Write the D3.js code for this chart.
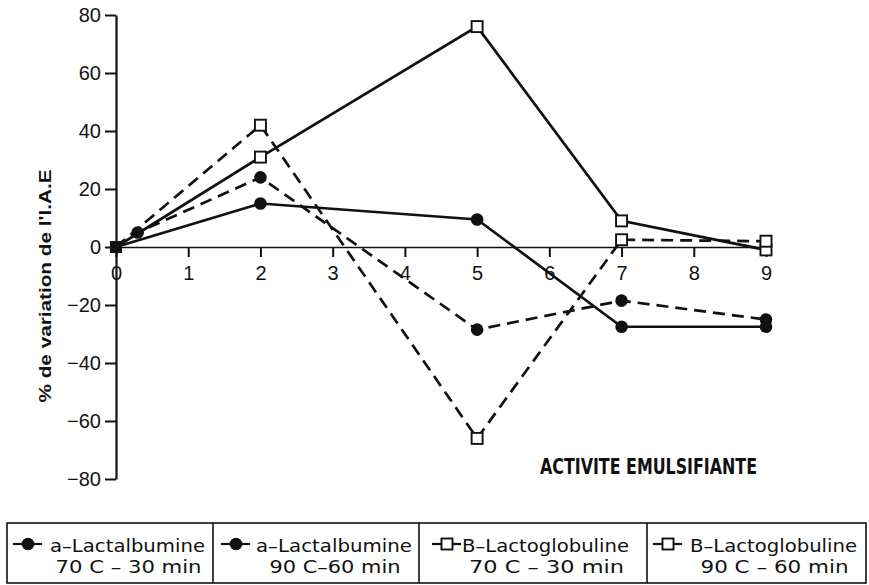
<!DOCTYPE html>
<html lang="fr">
<head>
<meta charset="utf-8">
<title>% de variation de l'I.A.E</title>
<script src="https://d3js.org/d3.v7.min.js"></script>
<style>
  body { margin: 0; background: #fff; }
  svg text { fill: #111; }
</style>
</head>
<body>
<svg id="chart" width="869" height="585"></svg>
<script>
// ---- data ----
var xTicks = [0, 1, 2, 3, 4, 5, 6, 7, 8, 9];
var yTicks = [-80, -60, -40, -20, 0, 20, 40, 60, 80];

var xA70 = [0, 2, 5, 7, 9];
var yA70 = [0, 15, 9.5, -27.5, -27.5];

var xA90 = [0, 0.3, 2, 5, 7, 9];
var yA90 = [0, 5, 24, -28.5, -18.5, -25];

var xB70 = [0, 2, 5, 7, 9];
var yB70 = [0, 31, 76, 9, -1];

var xB90 = [0, 2, 5, 7, 9];
var yB90 = [0, 42, -66, 2.5, 2];

var seriesNames = ["a\u2013Lactalbumine", "a\u2013Lactalbumine", "B\u2013Lactoglobuline", "B\u2013Lactoglobuline"];
var seriesConds = ["70 C \u2013 30 min", "90 C\u201360 min", "70 C \u2013 30 min", "90 C \u2013 60 min"];

// ---- build series ----
function pts(xs, ys) { return xs.map(function(d, i) { return {x: d, y: ys[i]}; }); }
var series = [
  {pts: pts(xA70, yA70), dashed: false, marker: "circle"},
  {pts: pts(xA90, yA90), dashed: true,  marker: "circle"},
  {pts: pts(xB70, yB70), dashed: false, marker: "square"},
  {pts: pts(xB90, yB90), dashed: true,  marker: "square"}
];

var svg = d3.select("#chart");
var x = d3.scaleLinear().domain([0, 9]).range([116, 766]);
var y = d3.scaleLinear().domain([-80, 80]).range([479, 15]);

var tickFont = "'Liberation Sans', Arial, sans-serif";

// y axis
var yAxis = svg.append("g")
    .attr("transform", "translate(" + x(0) + ",0)")
    .call(d3.axisLeft(y).tickValues(yTicks).tickSize(11).tickPadding(4).tickSizeOuter(0)
      .tickFormat(function(d) { return d < 0 ? "\u2212" + Math.abs(d) : d; }));
yAxis.select(".domain").attr("stroke", "#111").attr("stroke-width", 2.2);
yAxis.selectAll(".tick line").attr("stroke", "#111").attr("stroke-width", 2);
yAxis.selectAll("text").attr("font-size", 20).attr("font-family", tickFont).style("fill", "#111");

// x axis
var xAxis = svg.append("g")
    .attr("transform", "translate(0," + y(0) + ")")
    .call(d3.axisBottom(x).tickValues(xTicks).tickSize(10).tickPadding(9).tickSizeOuter(0));
xAxis.select(".domain").attr("stroke", "#111").attr("stroke-width", 1.6);
xAxis.selectAll(".tick line").attr("stroke", "#111").attr("stroke-width", 2);
xAxis.selectAll("text").attr("font-size", 20).attr("font-family", tickFont).style("fill", "#111");

// axis titles
svg.append("text")
    .attr("transform", "translate(51," + 286 + ") rotate(-90)")
    .attr("text-anchor", "middle")
    .attr("font-family", tickFont)
    .attr("font-weight", "bold")
    .attr("font-size", 16)
    .attr("textLength", 233)
    .attr("lengthAdjust", "spacingAndGlyphs")
    .text("% de variation de l'I.A.E");

svg.append("text")
    .attr("x", 540).attr("y", 474)
    .attr("font-family", "'Liberation Sans Narrow', 'DejaVu Sans Condensed', sans-serif")
    .attr("font-weight", "bold")
    .attr("font-size", 21)
    .attr("textLength", 217)
    .attr("lengthAdjust", "spacingAndGlyphs")
    .text("ACTIVITE EMULSIFIANTE");

// lines
var line = d3.line().x(function(d) { return x(d.x); }).y(function(d) { return y(d.y); });

series.forEach(function(s) {
  svg.append("path")
      .datum(s.pts)
      .attr("d", line)
      .attr("fill", "none")
      .attr("stroke", "#111")
      .attr("stroke-width", 2.7)
      .attr("stroke-dasharray", s.dashed ? "12,7" : null);
});

function drawMarker(g, kind, cx, cy) {
  if (kind === "circle") {
    g.append("circle").attr("cx", cx).attr("cy", cy).attr("r", 6.3).attr("fill", "#111");
  } else {
    g.append("rect").attr("x", cx - 5.5).attr("y", cy - 5.5).attr("width", 11).attr("height", 11)
        .attr("fill", "#fff").attr("stroke", "#111").attr("stroke-width", 1.9);
  }
}

series.forEach(function(s) {
  var g = svg.append("g");
  s.pts.forEach(function(p) {
    if (p.x === 0) return;
    drawMarker(g, s.marker, x(p.x), y(p.y));
  });
});
// origin blob
svg.append("rect").attr("x", x(0) - 6).attr("y", y(0) - 6).attr("width", 12).attr("height", 12).attr("fill", "#111");

// legend
var legTop = 523, legBot = 583;
var cellEdges = [7, 213, 419, 647, 866];
var legFont = "'DejaVu Sans', sans-serif";
var line1Len = [155, 156, 167, 167];
var line2Len = [146, 131, 155, 148];
var symOff = [6, 8, 13, 6];

svg.append("rect")
    .attr("x", cellEdges[0]).attr("y", legTop)
    .attr("width", cellEdges[4] - cellEdges[0]).attr("height", legBot - legTop)
    .attr("fill", "none").attr("stroke", "#111").attr("stroke-width", 1.6);

cellEdges.slice(1, 4).forEach(function(e) {
  svg.append("line").attr("x1", e).attr("x2", e).attr("y1", legTop).attr("y2", legBot)
      .attr("stroke", "#111").attr("stroke-width", 1.6);
});

series.forEach(function(s, i) {
  var left = cellEdges[i];
  var g = svg.append("g");
  var sx = left + symOff[i];
  g.append("line").attr("x1", sx).attr("x2", sx + 29).attr("y1", 544).attr("y2", 544)
      .attr("stroke", "#111").attr("stroke-width", 2.2);
  drawMarker(g, s.marker, sx + 15, 544);
  var tx = left + 43;
  g.append("text")
      .attr("x", tx).attr("y", 552)
      .attr("font-family", legFont).attr("font-size", 18)
      .attr("textLength", line1Len[i]).attr("lengthAdjust", "spacingAndGlyphs")
      .text(seriesNames[i]);
  g.append("text")
      .attr("x", tx + line1Len[i] / 2 + 1).attr("y", 573)
      .attr("text-anchor", "middle")
      .attr("font-family", legFont).attr("font-size", 18)
      .attr("textLength", line2Len[i]).attr("lengthAdjust", "spacingAndGlyphs")
      .text(seriesConds[i]);
});
</script>
</body>
</html>
